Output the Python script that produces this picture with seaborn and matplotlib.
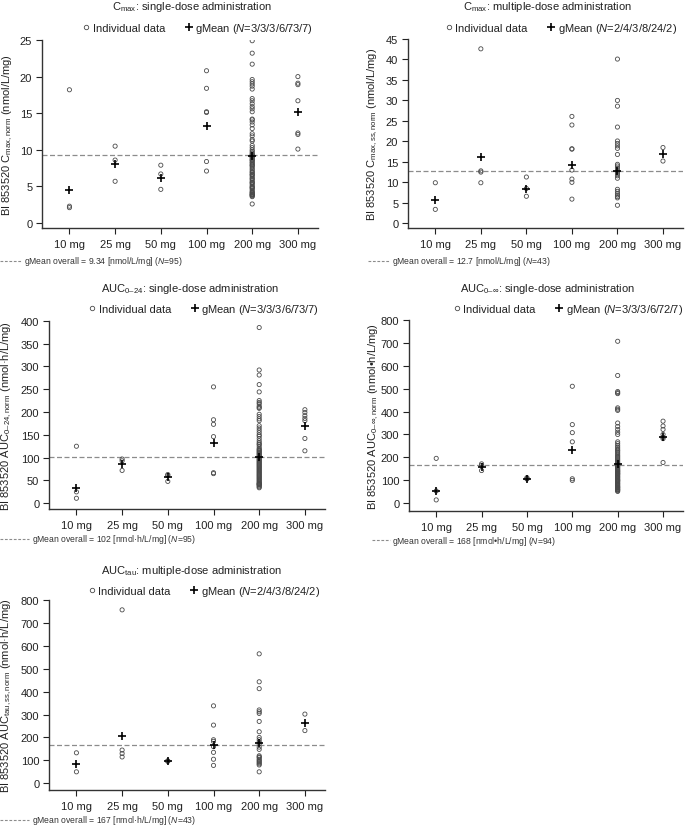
import matplotlib
matplotlib.use("Agg")
import numpy as np
import pandas as pd
import matplotlib.pyplot as plt
import seaborn as sns
from matplotlib.lines import Line2D
from matplotlib import transforms

# ---------------- data ----------------
DOSES = ["10 mg", "25 mg", "50 mg", "100 mg", "200 mg", "300 mg"]

CMAX_SD = {
    "10 mg": [18.2, 2.3, 2.1],
    "25 mg": [10.5, 8.6, 5.7],
    "50 mg": [7.9, 6.7, 4.6],
    "100 mg": [20.8, 18.4, 15.2, 15.1, 8.4, 7.1],
    "200 mg": [24.9, 23.2, 21.7, 19.6, 19.3, 19.0, 18.7, 18.3, 17.0, 16.7, 16.3, 15.9, 15.6,
               15.2, 14.2, 14.1, 13.8, 13.4, 12.9, 12.2, 11.9, 11.4, 11.2, 10.6, 10.3, 10.0,
               9.8, 9.6, 9.4, 9.3, 9.2, 9.1, 9.0, 8.9, 8.7, 8.6, 8.5, 8.3, 8.2, 8.0, 7.9, 7.8,
               7.6, 7.4, 7.2, 7.0, 6.9, 6.7, 6.6, 6.5, 6.3, 6.1, 6.0, 5.8, 5.6, 5.5, 5.4, 5.2,
               5.0, 4.9, 4.8, 4.7, 4.5, 4.3, 4.2, 4.1, 4.0, 3.9, 3.85, 3.8, 3.7, 3.6, 2.6],
    "300 mg": [20.0, 19.1, 18.9, 16.7, 12.3, 12.1, 10.1],
}
CMAX_SD_GMEAN = [4.5, 8.0, 6.2, 13.2, 9.1, 15.1]
CMAX_SD_OVERALL = 9.34

CMAX_MD = {
    "10 mg": [9.9, 3.4],
    "25 mg": [42.6, 12.8, 12.5, 9.9],
    "50 mg": [11.3, 8.5, 6.6],
    "100 mg": [26.1, 24.0, 18.2, 18.1, 13.0, 10.8, 10.0, 5.9],
    "200 mg": [40.1, 30.0, 28.6, 23.5, 20.1, 19.5, 18.9, 18.3, 16.8, 14.4, 14.0, 13.5, 12.9,
               12.5, 12.1, 11.6, 11.0, 8.3, 7.8, 7.3, 6.9, 6.5, 6.2, 4.4],
    "300 mg": [18.5, 15.2],
}
CMAX_MD_GMEAN = [5.8, 16.1, 8.4, 14.3, 12.8, 16.8]
CMAX_MD_OVERALL = 12.7

AUC24_SD = {
    "10 mg": [125, 25, 11],
    "25 mg": [97, 93, 72],
    "50 mg": [63, 61, 48],
    "100 mg": [255, 183, 173, 146, 67, 65],
    "200 mg": [385, 292, 281, 260, 244, 225, 221, 218, 213, 210, 208, 195, 190, 185, 181,
               170, 165, 160, 155, 150, 147, 142, 137, 133, 130, 128, 124, 120, 118, 116,
               114, 112, 110, 108, 106, 104, 102, 100, 98, 96, 94, 92, 90, 88, 86, 84, 82,
               80, 78, 76, 74, 72, 70, 68, 66, 64, 62, 60, 58, 56, 54, 52, 50, 48, 46, 44,
               43, 42, 41, 40, 38, 36, 34],
    "300 mg": [205, 199, 192, 186, 181, 142, 115],
}
AUC24_SD_GMEAN = [33, 87, 57, 131, 101, 170]
AUC24_SD_OVERALL = 102

AUCINF_SD = {
    "10 mg": [196, 54, 15],
    "25 mg": [172, 165, 143],
    "50 mg": [112, 108, 106],
    "100 mg": [510, 343, 308, 268, 107, 100],
    "200 mg": [706, 557, 487, 482, 478, 416, 410, 405, 350, 335, 322, 310, 300, 268, 260,
               252, 245, 238, 232, 228, 222, 216, 210, 205, 200, 195, 190, 185, 180, 176,
               172, 168, 165, 162, 158, 155, 152, 148, 145, 142, 140, 138, 135, 132, 130,
               128, 125, 122, 118, 115, 112, 108, 105, 102, 100, 98, 95, 92, 88, 85, 82,
               78, 75, 72, 70, 68, 65, 62, 60, 58, 55, 52],
    "300 mg": [358, 337, 322, 300, 288, 282, 178],
}
AUCINF_SD_GMEAN = [54, 160, 108, 232, 172, 288]
AUCINF_SD_OVERALL = 168

AUCTAU_MD = {
    "10 mg": [133, 50],
    "25 mg": [757, 145, 130, 115],
    "50 mg": [98, 97, 96],
    "100 mg": [338, 254, 190, 183, 160, 135, 105, 78],
    "200 mg": [565, 443, 413, 320, 312, 305, 270, 225, 200, 190, 180, 172, 158, 148, 120,
               115, 112, 105, 100, 95, 90, 85, 80, 50],
    "300 mg": [302, 230],
}
AUCTAU_MD_GMEAN = [82, 205, 97, 165, 177, 263]
AUCTAU_MD_OVERALL = 167

# ---------------- style ----------------
sns.set_theme(style="ticks")
plt.rcParams["font.family"] = ["Liberation Sans", "DejaVu Sans"]
plt.rcParams["mathtext.fontset"] = "custom"
plt.rcParams["mathtext.rm"] = "Liberation Sans"
plt.rcParams["mathtext.it"] = "Liberation Sans:italic"
plt.rcParams["mathtext.bf"] = "Liberation Sans:bold"

W, H = 685, 828
fig = plt.figure(figsize=(W / 100, H / 100), dpi=100)
fig.patch.set_facecolor("white")

TXT = "#222222"
FS = 8


def fx(px):
    return px / W


def fy(py):
    return 1 - py / H


panels = [
    dict(data=CMAX_SD, gmean=CMAX_SD_GMEAN, overall=CMAX_SD_OVERALL,
         box=(42, 41, 318, 229), ylim=(-0.68, 25), yticks=np.arange(0, 26, 5),
         title=r"C$_{\mathrm{max}}$: single-dose administration", title_xy=(192, 7),
         legN="3/3/3/6/73/7", leg_xy=(198, 29),
         ylabel=r"BI 853520 C$_{\mathrm{max,norm}}$ (nmol/L/mg)", ylab_x=15,
         foot=r"gMean overall = 9.34 [nmol/L/mg] ($\mathit{N}$=95)",
         foot_line=(0, 21), foot_x=24, foot_y=262),
    dict(data=CMAX_MD, gmean=CMAX_MD_GMEAN, overall=CMAX_MD_OVERALL,
         box=(408, 40, 683, 229), ylim=(-1.15, 45), yticks=np.arange(0, 46, 5),
         title=r"C$_{\mathrm{max}}$: multiple-dose administration", title_xy=(548, 7),
         legN="2/4/3/8/24/2", leg_xy=(561, 29),
         ylabel=r"BI 853520 C$_{\mathrm{max,ss,norm}}$ (nmol/L/mg)", ylab_x=380,
         foot=r"gMean overall = 12.7 [nmol/L/mg] ($\mathit{N}$=43)",
         foot_line=(368, 390), foot_x=392, foot_y=262),
    dict(data=AUC24_SD, gmean=AUC24_SD_GMEAN, overall=AUC24_SD_OVERALL,
         box=(49, 321.7, 325, 510), ylim=(-12.5, 400), yticks=np.arange(0, 401, 50),
         title=r"AUC$_{\mathrm{0–24}}$: single-dose administration", title_xy=(190, 289),
         legN="3/3/3/6/73/7", leg_xy=(204, 310),
         ylabel=r"BI 853520 AUC$_{\mathrm{0–24,norm}}$ (nmol·h/L/mg)", ylab_x=14,
         foot=r"gMean overall = 102 [nmol·h/L/mg] ($\mathit{N}$=95)",
         foot_line=(0, 29), foot_x=32, foot_y=540),
    dict(data=AUCINF_SD, gmean=AUCINF_SD_GMEAN, overall=AUCINF_SD_OVERALL,
         box=(409, 320.7, 683, 511.7), ylim=(-32, 800), yticks=np.arange(0, 801, 100),
         title=r"AUC$_{\mathrm{0–\infty}}$: single-dose administration", title_xy=(547, 289),
         legN="3/3/3/6/72/7", leg_xy=(568, 310),
         ylabel=r"BI 853520 AUC$_{\mathrm{0–\infty,norm}}$ (nmol•h/L/mg)", ylab_x=381,
         foot=r"gMean overall = 168 [nmol•h/L/mg] ($\mathit{N}$=94)",
         foot_line=(372, 390), foot_x=392, foot_y=541),
    dict(data=AUCTAU_MD, gmean=AUCTAU_MD_GMEAN, overall=AUCTAU_MD_OVERALL,
         box=(49, 601, 325, 790.7), ylim=(-28, 800), yticks=np.arange(0, 801, 100),
         title=r"AUC$_{\mathrm{tau}}$: multiple-dose administration", title_xy=(191, 571),
         legN="2/4/3/8/24/2", leg_xy=(204, 592),
         ylabel=r"BI 853520 AUC$_{\mathrm{tau,ss,norm}}$ (nmol·h/L/mg)", ylab_x=14,
         foot=r"gMean overall = 167 [nmol·h/L/mg] ($\mathit{N}$=43)",
         foot_line=(0, 29), foot_x=32, foot_y=821),
]

for p in panels:
    l, t, r, b = p["box"]
    ax = fig.add_axes([fx(l), fy(b), fx(r - l), (b - t) / H])
    ax.set_facecolor("white")

    gm_df = pd.DataFrame({"dose": DOSES, "value": p["gmean"]})
    ind_df = pd.DataFrame({
        "dose": [d for d in DOSES for _ in p["data"][d]],
        "value": [v for d in DOSES for v in p["data"][d]],
    })

    sns.scatterplot(data=gm_df, x="dose", y="value", ax=ax, marker="+", s=26,
                    color="black", edgecolor=None, linewidth=1.2, zorder=4, legend=False)
    sns.scatterplot(data=ind_df, x="dose", y="value", ax=ax, marker="o", s=9,
                    facecolor="none", edgecolor="#4a4a4a", linewidth=0.6, zorder=3,
                    legend=False)

    ax.axhline(p["overall"], color="#8c8c8c", ls=(0, (4, 2)), lw=0.9, zorder=2)

    ax.set_xlim(-0.6, 5.44)
    ax.set_ylim(*p["ylim"])
    ax.set_yticks(p["yticks"])
    ax.set_xticks(range(len(DOSES)))
    ax.set_xticklabels(DOSES)
    ax.set_xlabel("")
    ax.set_ylabel(p["ylabel"], fontsize=FS, color=TXT)
    ax.yaxis.set_label_coords(fx(p["ylab_x"]), 0.5,
                              transform=transforms.blended_transform_factory(fig.transFigure, ax.transAxes))
    ax.tick_params(axis="both", labelsize=FS, colors="#222222", length=4, width=0.8,
                   direction="out", pad=3)
    ax.tick_params(axis="x", pad=4)
    sns.despine(ax=ax)
    for s in ("left", "bottom"):
        ax.spines[s].set_color("#333333")
        ax.spines[s].set_linewidth(1.0)

    # title
    fig.text(fx(p["title_xy"][0]), fy(p["title_xy"][1]), p["title"], ha="center",
             va="center", fontsize=FS, color=TXT)

    # legend
    handles = [
        Line2D([], [], ls="none", marker="o", ms=3.2, mfc="none", mec="#4a4a4a", mew=0.6),
        Line2D([], [], ls="none", marker="+", ms=5.2, color="black", mew=1.2),
    ]
    labels = ["Individual data", r"gMean ($\mathit{N}$=" + p["legN"] + ")"]
    ax.legend(handles, labels, ncol=2, loc="center",
              bbox_to_anchor=(fx(p["leg_xy"][0]), fy(p["leg_xy"][1])),
              bbox_transform=fig.transFigure, frameon=False, fontsize=FS,
              handlelength=0.6, handletextpad=0.3, columnspacing=1.8,
              borderpad=0, labelcolor=TXT)

    # footnote
    x0, x1 = p["foot_line"]
    fy_ = fy(p["foot_y"])
    fig.add_artist(Line2D([fx(x0), fx(x1)], [fy_, fy_], transform=fig.transFigure,
                          color="#8c8c8c", ls=(0, (2.5, 1.5)), lw=0.8))
    fig.text(fx(p["foot_x"]), fy_, p["foot"], ha="left", va="center", fontsize=6.2,
             color="#333333")

fig.savefig("out.png", dpi=100, facecolor="white")
